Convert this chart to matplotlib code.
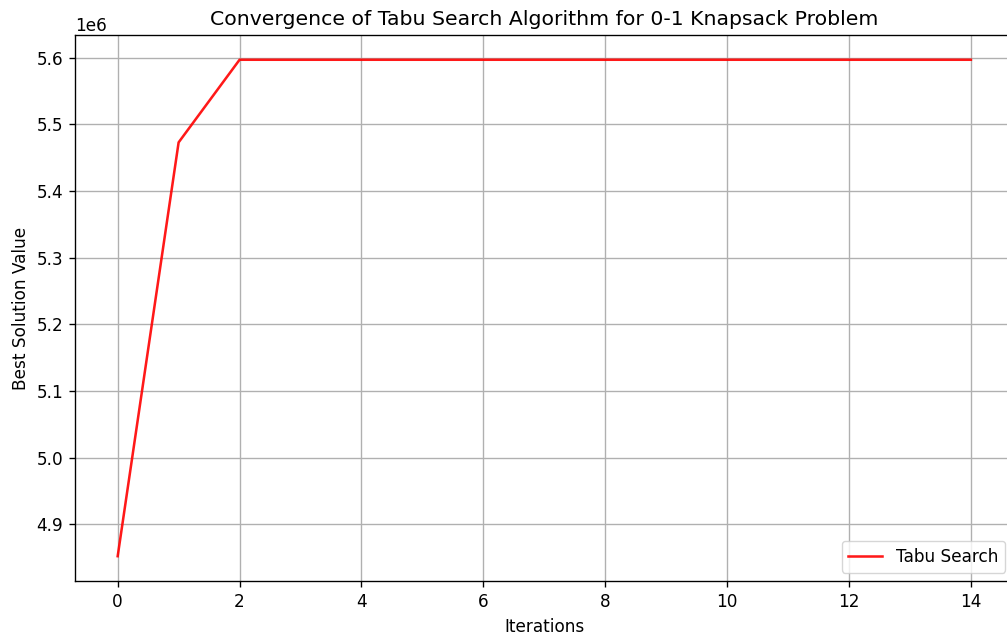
import matplotlib
matplotlib.use("Agg")
import matplotlib.pyplot as plt

iterations = list(range(15))
best_values = [4852000, 5473000] + [5597000] * 13

# everything a bit bigger than the defaults
s = 1.22
plt.rcParams.update({
    "font.size": 10 * s,
    "axes.titlesize": 12 * s,
    "axes.linewidth": 0.8 * s,
    "grid.linewidth": 0.8 * s,
    "xtick.major.width": 0.8 * s,
    "ytick.major.width": 0.8 * s,
    "xtick.major.size": 3.5 * s,
    "ytick.major.size": 3.5 * s,
    "xtick.major.pad": 3.5 * s,
    "ytick.major.pad": 3.5 * s,
    "axes.titlepad": 6 * s,
    "axes.labelpad": 4 * s,
})

fig = plt.figure(figsize=(10.07, 6.35), dpi=100)
ax = fig.add_axes([0.0745, 0.085, 0.932, 0.860])
ax.plot(iterations, best_values, color="red", alpha=0.9, linewidth=1.5 * s, label="Tabu Search")
ax.set_title("Convergence of Tabu Search Algorithm for 0-1 Knapsack Problem")
ax.set_xlabel("Iterations")
ax.set_ylabel("Best Solution Value")
ax.grid(True)
ax.legend(loc="lower right")
fig.savefig("out.png", dpi=100)
